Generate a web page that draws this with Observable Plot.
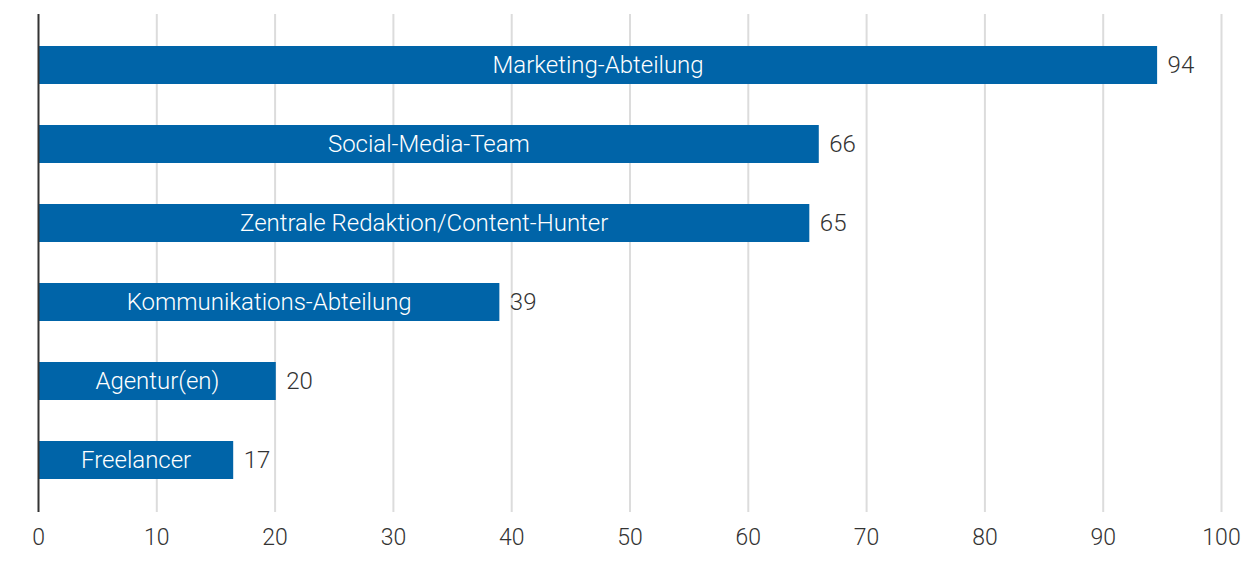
<!DOCTYPE html>
<html><head><meta charset="utf-8">
<script src="https://cdn.jsdelivr.net/npm/d3@7"></script>
<script src="https://cdn.jsdelivr.net/npm/@observablehq/plot@0.6"></script>
<style>
body{margin:0;background:#fff;}
svg{font-family:Roboto,"Liberation Sans",sans-serif;font-weight:300;}
</style></head>
<body><div id="chart"></div>
<script>
const categories = ["Marketing-Abteilung","Social-Media-Team","Zentrale Redaktion/Content-Hunter","Kommunikations-Abteilung","Agentur(en)","Freelancer"];
const values = [94.6, 66.0, 65.2, 39.0, 20.1, 16.5];
const valueLabels = ["94","66","65","39","20","17"];
const xTicks = [0,10,20,30,40,50,60,70,80,90,100];

const data = categories.map((c,i)=>({cat:c, v:values[i], lab:valueLabels[i]}));

const chart = Plot.plot({
  width: 1253, height: 575,
  marginLeft: 38, marginRight: 32, marginTop: 14, marginBottom: 63,
  style: {fontSize: "23px", color: "#333", background: "#fff"},
  x: {domain: [0,100], ticks: xTicks, label: null, tickSize: 0, tickPadding: 16},
  y: {domain: categories, paddingInner: 0.52, paddingOuter: 0.264, insetTop: 10, insetBottom: 11, axis: null},
  marks: [
    Plot.ruleX(xTicks.filter(d=>d>0), {stroke: "#dcdcdc", strokeWidth: 2}),
    Plot.barX(data, {x: "v", y: "cat", fill: "#0064a8"}),
    Plot.ruleX([0], {stroke: "#333", strokeWidth: 2}),
    Plot.text(data, {x: d=>d.v/2, y: "cat", text: "cat", fill: "white", fontSize: 24}),
    Plot.text(data, {x: "v", y: "cat", text: "lab", textAnchor: "start", dx: 10, fill: "#333", fontSize: 24})
  ]
});
document.getElementById("chart").appendChild(chart);
</script></body></html>
